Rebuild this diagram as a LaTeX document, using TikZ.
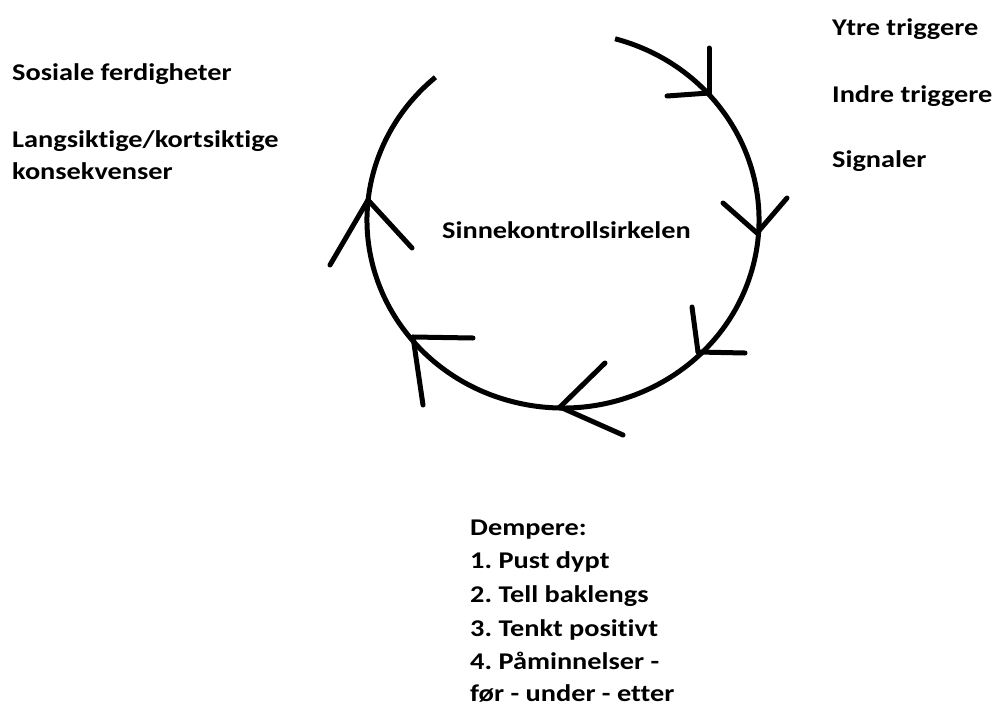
\documentclass[tikz,border=0pt]{standalone}
\usepackage{fontspec}
\setmainfont{Carlito}[Ligatures=NoCommon,BoldFeatures={FakeStretch=1.18}]
\frenchspacing
\begin{document}
\begin{tikzpicture}[x=1pt,y=-1pt,
  ring/.style={line width=5pt},
  tick/.style={line width=5pt,line cap=round},
  lbl/.style={anchor=base west,inner sep=0pt,font=\fontsize{24}{33}\selectfont\bfseries}]
\path[fill=white,use as bounding box] (0,0) rectangle (995,707);
% ring
\draw[ring] (563,220) ++(-74.6:196 and 188) arc[start angle=-74.6,end angle=229.4,x radius=196,y radius=188];
% arrowheads (vertex on the ring, two strokes)
\coordinate (v1) at (709,93);
\draw[tick] (v1) -- (709,48); \draw[tick] (v1) -- (667,96);
\coordinate (v2) at (757,233);
\draw[tick] (v2) -- (723,203); \draw[tick] (v2) -- (787,198);
\coordinate (v3) at (698,352);
\draw[tick] (v3) -- (692,307); \draw[tick] (v3) -- (745,353);
\coordinate (v4) at (560,407);
\draw[tick] (v4) -- (605,363); \draw[tick] (v4) -- (623,435);
\coordinate (v5) at (413,337);
\draw[tick] (v5) -- (473,338); \draw[tick] (v5) -- (423,405);
\coordinate (v6) at (368,200);
\draw[tick] (v6) -- (412,248); \draw[tick] (v6) -- (330,265);
% texts
\node[lbl] (sos) at (12,80) {Sosiale ferdigheter};
\node[lbl] (lang1) at (12,147) {Langsiktige/kortsiktige};
\node[lbl] (lang2) at (12,179) {konsekvenser};
\node[lbl] (ytre) at (832,35) {Ytre triggere};
\node[lbl] (indre) at (832,102) {Indre triggere};
\node[lbl] (sign) at (832,167) {Signaler};
\node[lbl] (mid) at (442,238) {Sinnekontrollsirkelen};
\node[lbl] (d0) at (470,535) {Dempere:};
\node[lbl] (d1) at (470,568) {1. Pust dypt};
\node[lbl] (d2) at (470,602) {2. Tell baklengs};
\node[lbl] (d3) at (470,636) {3. Tenkt positivt};
\node[lbl] (d4) at (470,669) {4. Påminnelser -};
\node[lbl] (d5) at (470,701) {før - under - etter};
\end{tikzpicture}
\end{document}
